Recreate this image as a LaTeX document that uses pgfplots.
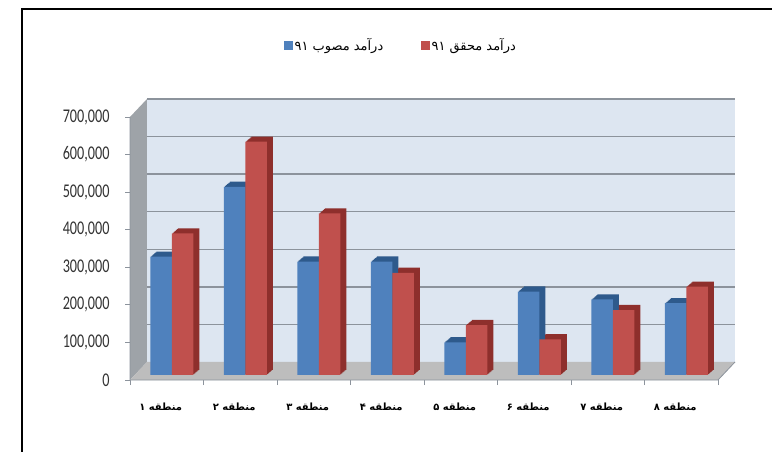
\documentclass[border=0pt]{standalone}
\usepackage{pgfplots}
\pgfplotsset{compat=1.18}
\usepackage{pgfplotstable}
\usepackage{fontspec}
\TeXXeTstate=1
\newfontfamily\arabicfont[Script=Arabic]{DejaVu Sans}
\newfontfamily\numfont{Carlito}
\definecolor{barblue}{HTML}{4F81BD}
\definecolor{barbluedark}{HTML}{2E5A8C}
\definecolor{barred}{HTML}{C0504D}
\definecolor{barreddark}{HTML}{8E2F2C}
\definecolor{wall}{HTML}{DDE6F1}
\definecolor{gridc}{HTML}{8C939C}
\definecolor{floorc}{HTML}{BDBDBD}
\definecolor{sidec}{HTML}{9EA3A8}
\definecolor{labc}{HTML}{333333}
\pgfplotstableread{
x a r
0 315000 377000
1 501000 621000
2 302000 430000
3 302000 272000
4 87000 133000
5 222000 95000
6 201000 173000
7 191000 235000
}\data
\begin{document}
\begin{tikzpicture}
\useasboundingbox (0,0) rectangle (772bp,452bp);
\fill[white] (0,0) rectangle (772bp,452bp);
\draw[line width=2.2bp] (22bp,-10bp) -- (22bp,443bp) -- (790bp,443bp);
\begin{axis}[
  at={(130bp,72bp)}, anchor=south west,
  scale only axis, width=588bp, height=263bp,
  xmin=-0.5, xmax=7.5, ymin=0, ymax=700000,
  clip=false,
  axis line style={draw=none},
  tick pos=left, tick align=outside,
  ytick={0,100000,200000,300000,400000,500000,600000,700000},
  major tick length=5bp, minor tick length=5bp,
  tick style={gridc, line width=0.8bp},
  major x tick style={draw=none},
  xtick={0,1,2,3,4,5,6,7},
  minor xtick={-0.5,0.5,1.5,2.5,3.5,4.5,5.5,6.5,7.5},
  xticklabels={\beginR منطقه ۱\endR,\beginR منطقه ۲\endR,\beginR منطقه ۳\endR,\beginR منطقه ۴\endR,\beginR منطقه ۵\endR,\beginR منطقه ۶\endR,\beginR منطقه ۷\endR,\beginR منطقه ۸\endR},
  xticklabel style={font=\arabicfont\bfseries\fontsize{10}{11}\selectfont, text=black, yshift=-14bp, xshift=-6bp},
  scaled y ticks=false,
  yticklabel={\scalebox{0.95}[1.3]{\axisdefaultticklabel}},
  yticklabel style={font=\numfont\fontsize{15}{15}\selectfont, text=labc, xshift=-12bp,
    /pgf/number format/.cd, fixed, 1000 sep={,}, assume math mode=true},
  legend style={at={(0.461,1.274)}, anchor=center, draw=none, fill=none,
    font=\arabicfont\fontsize{13}{14}\selectfont, legend columns=2,
    /tikz/every even column/.append style={column sep=36bp}},
]
% walls
\fill[sidec] (axis cs:-0.5,0) -- (axis cs:-0.5,700000) -- ([shift={(17bp,18bp)}]axis cs:-0.5,700000) -- ([shift={(17bp,18bp)}]axis cs:-0.5,0) -- cycle;
\fill[wall] ([shift={(17bp,18bp)}]axis cs:-0.5,0) rectangle ([shift={(17bp,18bp)}]axis cs:7.5,700000);
\pgfplotsinvokeforeach{100000,200000,300000,400000,500000,600000,700000}{
  \draw[gridc, line width=1.5bp] ([shift={(17bp,18bp)}]axis cs:-0.5,#1) -- ([shift={(17bp,18bp)}]axis cs:7.5,#1);
}
\fill[floorc] (axis cs:-0.5,0) -- (axis cs:7.5,0) -- ([shift={(17bp,18bp)}]axis cs:7.5,0) -- ([shift={(17bp,18bp)}]axis cs:-0.5,0) -- cycle;
\draw[gridc, line width=0.8bp] (axis cs:-0.5,700000) -- (axis cs:-0.5,0) -- (axis cs:7.5,0) -- ([shift={(17bp,18bp)}]axis cs:7.5,0);
% legend images
\addlegendimage{legend image code/.code={\fill[barblue] (0bp,-4bp) rectangle (8bp,4bp);}}
\addlegendentry{\beginR درآمد مصوب ۹۱\endR}
\addlegendimage{legend image code/.code={\fill[barred] (0bp,-4bp) rectangle (8bp,4bp);}}
\addlegendentry{\beginR درآمد محقق ۹۱\endR}
% extrusions
\pgfplotsinvokeforeach{6,7,8,9,10,11}{
  \addplot[ybar, bar width=21.5bp, bar shift=-10.75bp, fill=barbluedark, draw=none, forget plot,
    xshift=#1bp, yshift={#1bp*0.85+0.75bp}] table[x=x,y=a]{\data};
  \addplot[ybar, bar width=21.5bp, bar shift=10.75bp, fill=barreddark, draw=none, forget plot,
    xshift=#1bp, yshift={#1bp*0.85+0.75bp}] table[x=x,y=r]{\data};
}
% fronts
\addplot[ybar, bar width=21.5bp, bar shift=-10.75bp, fill=barblue, draw=none, forget plot,
  xshift=5bp, yshift=5bp] table[x=x,y=a]{\data};
\addplot[ybar, bar width=21.5bp, bar shift=10.75bp, fill=barred, draw=none, forget plot,
  xshift=5bp, yshift=5bp] table[x=x,y=r]{\data};
\end{axis}
\end{tikzpicture}
\end{document}
